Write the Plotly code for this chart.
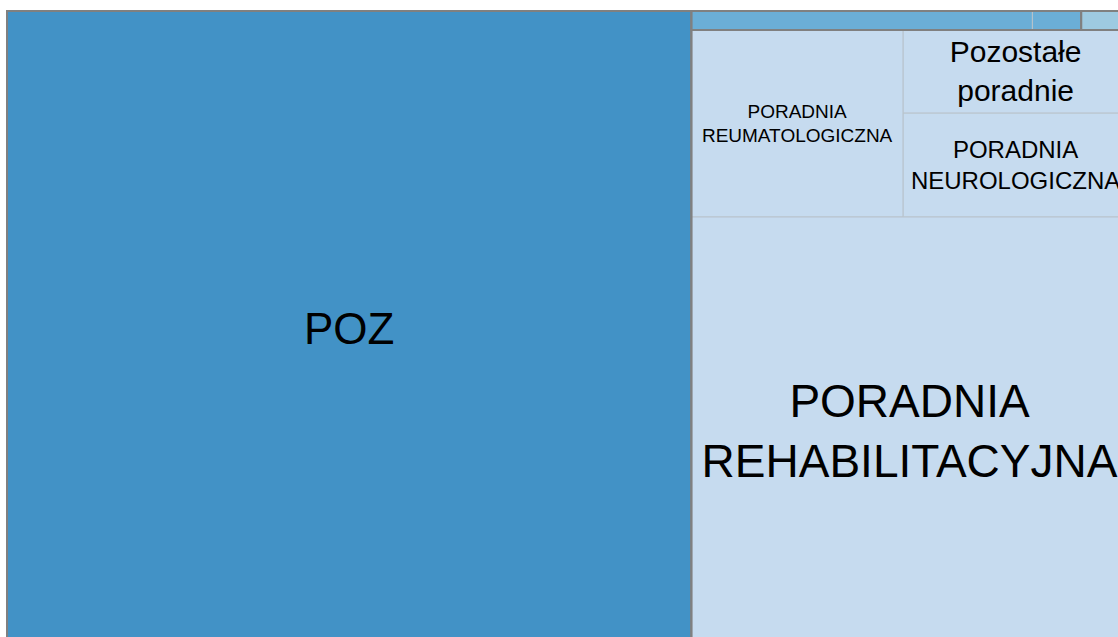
import plotly.graph_objects as go

# ---- data -----------------------------------------------------------
root_id = "Wszystkie"
group_ids = ["POZ", "AOS", "Leczenie szpitalne", "Inne"]
group_values = [12210, 0, 0, 25]          # POZ and "Inne" are leaves
group_colors = ["#4292c6", "#c6dbef", "#6baed6", "#9ecae1"]

aos_labels = ["PORADNIA<br>REHABILITACYJNA", "PORADNIA<br>REUMATOLOGICZNA",
              "PORADNIA<br>NEUROLOGICZNA", "Pozostałe<br>poradnie"]
aos_values = [5266, 1112, 656, 524]
aos_font_sizes = [46, 19, 24, 30]

szp_labels = ["Oddziały szpitalne", "Izba przyjęć"]
szp_values = [182, 26]

# ---- build hierarchy ------------------------------------------------
ids, parents, values, colors, texts, fsizes, lcols, lwids = [], [], [], [], [], [], [], []

def add(i, p, v, c, t="", fs=12, lc="rgba(0,0,0,0)", lw=0):
    ids.append(i); parents.append(p); values.append(v); colors.append(c)
    texts.append(t); fsizes.append(fs); lcols.append(lc); lwids.append(lw)

thin = "#b9c3cb"
add(root_id, "", 0, "#ffffff")
for gid, gv, gc in zip(group_ids, group_values, group_colors):
    if gid == "POZ":
        add(gid, root_id, gv, gc, "POZ", 44)
    else:
        add(gid, root_id, gv, gc)
for lab, v, fs in zip(aos_labels, aos_values, aos_font_sizes):
    add("AOS/" + lab, "AOS", v, "#c6dbef", lab, fs, thin, 1)
for lab, v in zip(szp_labels, szp_values):
    add("SZP/" + lab, "Leczenie szpitalne", v, "#6baed6", "", 10, thin, 1)

# top-level outline trace (same totals -> same layout)
group_totals = [12210, sum(aos_values), sum(szp_values), 25]
o_ids = [root_id] + group_ids
o_parents = [""] + [root_id] * len(group_ids)
o_values = [0] + group_totals

common = dict(
    branchvalues="remainder",
    sort=True,
    tiling=dict(packing="squarify", squarifyratio=1.618034, pad=0, flip="y"),
    pathbar=dict(visible=False),
    textposition="middle center",
    domain=dict(x=[0, 1], y=[0, 1]),
)

fig = go.Figure()
fig.add_trace(go.Treemap(
    ids=ids, labels=ids, parents=parents, values=values,
    text=texts, textinfo="text",
    textfont=dict(family="Liberation Sans, Arial, sans-serif", color="black", size=fsizes),
    marker=dict(colors=colors, line=dict(color=lcols, width=lwids),
                pad=dict(t=0, l=0, r=0, b=0), depthfade=False),
    hoverinfo="label+value",
    **common,
))
fig.add_trace(go.Treemap(
    ids=o_ids, labels=o_ids, parents=o_parents, values=o_values,
    textinfo="none",
    marker=dict(colors=["rgba(0,0,0,0)"] * len(o_ids),
                line=dict(color=["rgba(0,0,0,0)"] + ["#808080"] * len(group_ids),
                          width=[0] + [2] * len(group_ids)),
                pad=dict(t=0, l=0, r=0, b=0), depthfade=False),
    hoverinfo="skip",
    **common,
))

fig.update_layout(
    width=1128, height=646,
    margin=dict(l=7, t=11, r=0, b=0),
    paper_bgcolor="white",
    showlegend=False,
)

fig.write_html(
    "out.html",
    config={"displayModeBar": False},
    post_script="document.body.style.margin='0';document.body.style.overflow='hidden';"
                "document.documentElement.style.overflow='hidden';",
)
